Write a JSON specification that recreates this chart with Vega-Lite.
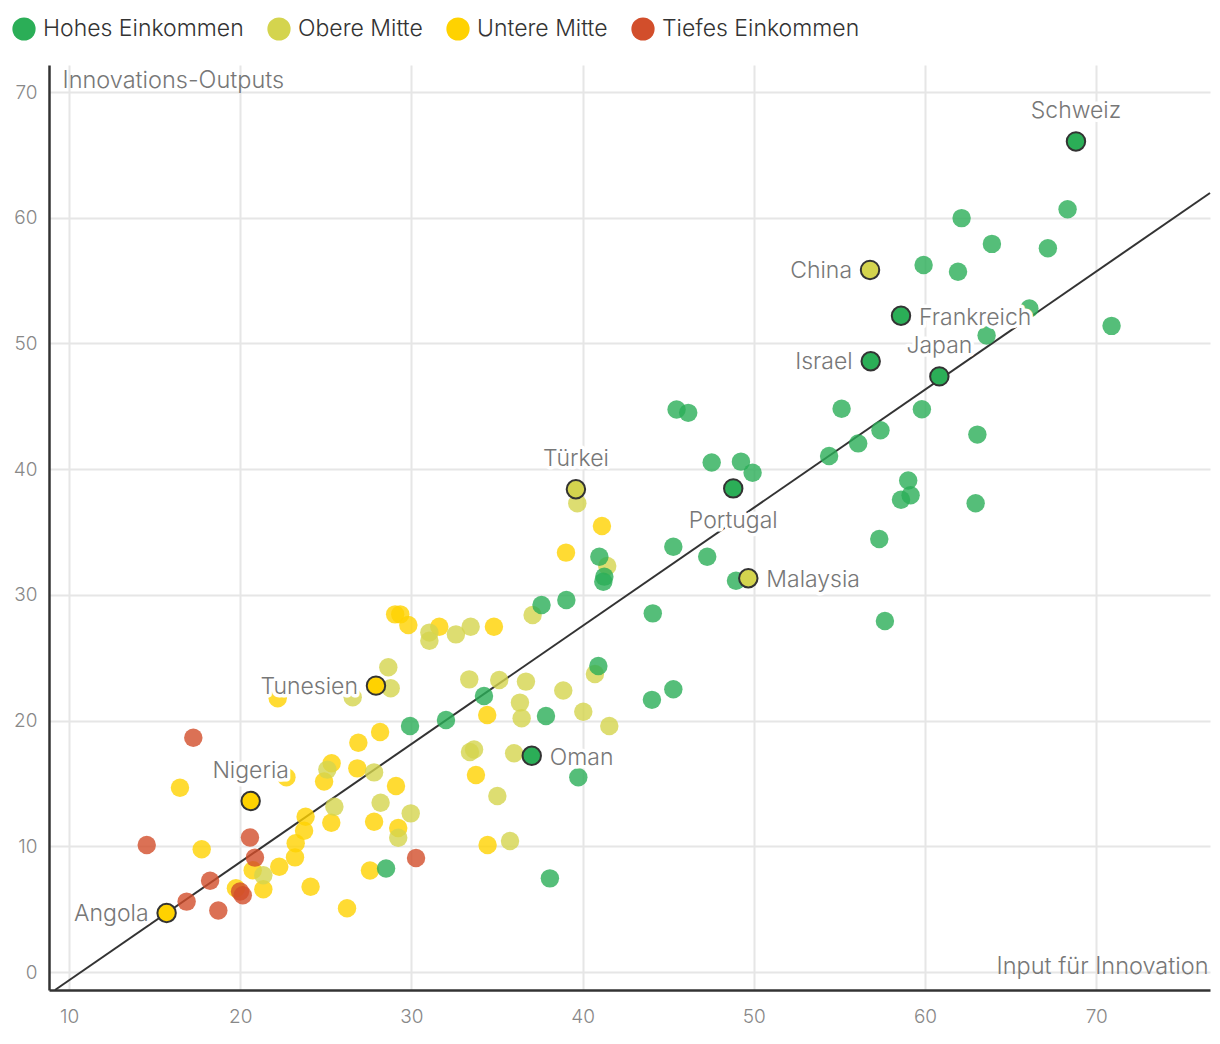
{
  "$schema": "https://vega.github.io/schema/vega-lite/v6.json",
  "width": 1161,
  "height": 925,
  "autosize": {"type": "none"},
  "padding": {"left": 49, "top": 65, "right": 10, "bottom": 54},
  "background": "white",
  "config": {
    "font": "Inter",
    "view": {"stroke": null},
    "text": {"font": "Inter", "fontWeight": 300}
  },
  "datasets": {
    "trend": [
      {"input": 9.18, "output": -1.43},
      {"input": 76.65, "output": 61.97}
    ],
    "punkte": [
      {"gruppe": "Untere Mitte", "input": 41.13, "output": 35.48},
      {"gruppe": "Untere Mitte", "input": 39.03, "output": 33.36},
      {"gruppe": "Untere Mitte", "input": 29.05, "output": 28.45},
      {"gruppe": "Untere Mitte", "input": 29.35, "output": 28.45},
      {"gruppe": "Untere Mitte", "input": 29.82, "output": 27.6},
      {"gruppe": "Untere Mitte", "input": 31.63, "output": 27.47},
      {"gruppe": "Untere Mitte", "input": 34.82, "output": 27.47},
      {"gruppe": "Untere Mitte", "input": 22.19, "output": 21.77},
      {"gruppe": "Untere Mitte", "input": 28.17, "output": 19.1},
      {"gruppe": "Untere Mitte", "input": 26.9, "output": 18.24},
      {"gruppe": "Untere Mitte", "input": 34.43, "output": 20.45},
      {"gruppe": "Untere Mitte", "input": 33.77, "output": 15.67},
      {"gruppe": "Untere Mitte", "input": 34.45, "output": 10.1},
      {"gruppe": "Untere Mitte", "input": 16.48, "output": 14.66},
      {"gruppe": "Untere Mitte", "input": 22.7, "output": 15.5},
      {"gruppe": "Untere Mitte", "input": 24.9, "output": 15.15},
      {"gruppe": "Untere Mitte", "input": 25.34, "output": 16.6},
      {"gruppe": "Untere Mitte", "input": 26.84, "output": 16.2},
      {"gruppe": "Untere Mitte", "input": 29.1, "output": 14.8},
      {"gruppe": "Untere Mitte", "input": 23.82, "output": 12.35},
      {"gruppe": "Untere Mitte", "input": 25.32, "output": 11.88},
      {"gruppe": "Untere Mitte", "input": 23.73, "output": 11.24},
      {"gruppe": "Untere Mitte", "input": 27.82, "output": 11.96},
      {"gruppe": "Untere Mitte", "input": 29.23, "output": 11.45},
      {"gruppe": "Untere Mitte", "input": 23.24, "output": 10.24},
      {"gruppe": "Untere Mitte", "input": 23.2, "output": 9.12},
      {"gruppe": "Untere Mitte", "input": 17.75, "output": 9.76},
      {"gruppe": "Untere Mitte", "input": 22.28, "output": 8.38},
      {"gruppe": "Untere Mitte", "input": 20.73, "output": 8.1},
      {"gruppe": "Untere Mitte", "input": 27.58, "output": 8.08},
      {"gruppe": "Untere Mitte", "input": 19.75, "output": 6.66},
      {"gruppe": "Untere Mitte", "input": 21.35, "output": 6.58},
      {"gruppe": "Untere Mitte", "input": 24.11, "output": 6.79},
      {"gruppe": "Untere Mitte", "input": 26.24, "output": 5.07},
      {"gruppe": "Obere Mitte", "input": 39.69, "output": 37.29},
      {"gruppe": "Obere Mitte", "input": 41.44, "output": 32.3},
      {"gruppe": "Obere Mitte", "input": 37.08, "output": 28.4},
      {"gruppe": "Obere Mitte", "input": 33.46, "output": 27.47},
      {"gruppe": "Obere Mitte", "input": 32.6, "output": 26.86},
      {"gruppe": "Obere Mitte", "input": 31.05, "output": 27.0},
      {"gruppe": "Obere Mitte", "input": 31.05, "output": 26.35},
      {"gruppe": "Obere Mitte", "input": 40.72, "output": 23.7},
      {"gruppe": "Obere Mitte", "input": 33.38, "output": 23.28},
      {"gruppe": "Obere Mitte", "input": 35.13, "output": 23.23},
      {"gruppe": "Obere Mitte", "input": 36.69, "output": 23.1},
      {"gruppe": "Obere Mitte", "input": 28.65, "output": 24.24},
      {"gruppe": "Obere Mitte", "input": 28.79, "output": 22.57},
      {"gruppe": "Obere Mitte", "input": 26.57, "output": 21.85},
      {"gruppe": "Obere Mitte", "input": 38.87, "output": 22.4},
      {"gruppe": "Obere Mitte", "input": 36.34, "output": 21.43},
      {"gruppe": "Obere Mitte", "input": 40.04, "output": 20.71},
      {"gruppe": "Obere Mitte", "input": 36.44, "output": 20.18},
      {"gruppe": "Obere Mitte", "input": 41.56, "output": 19.57},
      {"gruppe": "Obere Mitte", "input": 33.42, "output": 17.5},
      {"gruppe": "Obere Mitte", "input": 33.66, "output": 17.7},
      {"gruppe": "Obere Mitte", "input": 36.0, "output": 17.4},
      {"gruppe": "Obere Mitte", "input": 35.02, "output": 14.0},
      {"gruppe": "Obere Mitte", "input": 35.76, "output": 10.42},
      {"gruppe": "Obere Mitte", "input": 27.82, "output": 15.88},
      {"gruppe": "Obere Mitte", "input": 25.09, "output": 16.1},
      {"gruppe": "Obere Mitte", "input": 25.5, "output": 13.15},
      {"gruppe": "Obere Mitte", "input": 28.2, "output": 13.47},
      {"gruppe": "Obere Mitte", "input": 29.96, "output": 12.62},
      {"gruppe": "Obere Mitte", "input": 29.23, "output": 10.68},
      {"gruppe": "Obere Mitte", "input": 21.35, "output": 7.7},
      {"gruppe": "Hohes Einkommen", "input": 68.33, "output": 60.68},
      {"gruppe": "Hohes Einkommen", "input": 62.14, "output": 59.97},
      {"gruppe": "Hohes Einkommen", "input": 63.91, "output": 57.92},
      {"gruppe": "Hohes Einkommen", "input": 67.18, "output": 57.58},
      {"gruppe": "Hohes Einkommen", "input": 59.92, "output": 56.24},
      {"gruppe": "Hohes Einkommen", "input": 61.93, "output": 55.7},
      {"gruppe": "Hohes Einkommen", "input": 66.1, "output": 52.78},
      {"gruppe": "Hohes Einkommen", "input": 70.9, "output": 51.4},
      {"gruppe": "Hohes Einkommen", "input": 63.6, "output": 50.64},
      {"gruppe": "Hohes Einkommen", "input": 55.13, "output": 44.8},
      {"gruppe": "Hohes Einkommen", "input": 59.82, "output": 44.77},
      {"gruppe": "Hohes Einkommen", "input": 45.49, "output": 44.74},
      {"gruppe": "Hohes Einkommen", "input": 46.17, "output": 44.48},
      {"gruppe": "Hohes Einkommen", "input": 57.4, "output": 43.1},
      {"gruppe": "Hohes Einkommen", "input": 63.06, "output": 42.75},
      {"gruppe": "Hohes Einkommen", "input": 56.1, "output": 42.05},
      {"gruppe": "Hohes Einkommen", "input": 54.4, "output": 41.05},
      {"gruppe": "Hohes Einkommen", "input": 47.54, "output": 40.53},
      {"gruppe": "Hohes Einkommen", "input": 49.25, "output": 40.6},
      {"gruppe": "Hohes Einkommen", "input": 49.93, "output": 39.72},
      {"gruppe": "Hohes Einkommen", "input": 59.02, "output": 39.1},
      {"gruppe": "Hohes Einkommen", "input": 59.16, "output": 37.93},
      {"gruppe": "Hohes Einkommen", "input": 58.6, "output": 37.57},
      {"gruppe": "Hohes Einkommen", "input": 62.96, "output": 37.29},
      {"gruppe": "Hohes Einkommen", "input": 57.33, "output": 34.45},
      {"gruppe": "Hohes Einkommen", "input": 45.3, "output": 33.83},
      {"gruppe": "Hohes Einkommen", "input": 47.28, "output": 33.04},
      {"gruppe": "Hohes Einkommen", "input": 40.98, "output": 33.04},
      {"gruppe": "Hohes Einkommen", "input": 41.27, "output": 31.45},
      {"gruppe": "Hohes Einkommen", "input": 41.21, "output": 31.05},
      {"gruppe": "Hohes Einkommen", "input": 48.96, "output": 31.13},
      {"gruppe": "Hohes Einkommen", "input": 57.66, "output": 27.92},
      {"gruppe": "Hohes Einkommen", "input": 37.6, "output": 29.2},
      {"gruppe": "Hohes Einkommen", "input": 39.05, "output": 29.6},
      {"gruppe": "Hohes Einkommen", "input": 44.1, "output": 28.53},
      {"gruppe": "Hohes Einkommen", "input": 40.92, "output": 24.34},
      {"gruppe": "Hohes Einkommen", "input": 45.3, "output": 22.5},
      {"gruppe": "Hohes Einkommen", "input": 44.05, "output": 21.65},
      {"gruppe": "Hohes Einkommen", "input": 34.24, "output": 21.96},
      {"gruppe": "Hohes Einkommen", "input": 32.02, "output": 20.05},
      {"gruppe": "Hohes Einkommen", "input": 29.92, "output": 19.57},
      {"gruppe": "Hohes Einkommen", "input": 37.86, "output": 20.37},
      {"gruppe": "Hohes Einkommen", "input": 39.75, "output": 15.49},
      {"gruppe": "Hohes Einkommen", "input": 28.52, "output": 8.24},
      {"gruppe": "Hohes Einkommen", "input": 38.09, "output": 7.45},
      {"gruppe": "Tiefes Einkommen", "input": 17.26, "output": 18.64},
      {"gruppe": "Tiefes Einkommen", "input": 14.54, "output": 10.1},
      {"gruppe": "Tiefes Einkommen", "input": 20.57, "output": 10.7},
      {"gruppe": "Tiefes Einkommen", "input": 20.86, "output": 9.1},
      {"gruppe": "Tiefes Einkommen", "input": 30.27, "output": 9.07},
      {"gruppe": "Tiefes Einkommen", "input": 18.24, "output": 7.26},
      {"gruppe": "Tiefes Einkommen", "input": 16.87, "output": 5.6},
      {"gruppe": "Tiefes Einkommen", "input": 18.72, "output": 4.9},
      {"gruppe": "Tiefes Einkommen", "input": 19.99, "output": 6.4},
      {"gruppe": "Tiefes Einkommen", "input": 20.15, "output": 6.1},
      {"land": "Schweiz", "gruppe": "Hohes Einkommen", "input": 68.82, "output": 66.07},
      {"land": "China", "gruppe": "Obere Mitte", "input": 56.79, "output": 55.85},
      {"land": "Frankreich", "gruppe": "Hohes Einkommen", "input": 58.6, "output": 52.2},
      {"land": "Israel", "gruppe": "Hohes Einkommen", "input": 56.83, "output": 48.58},
      {"land": "Japan", "gruppe": "Hohes Einkommen", "input": 60.84, "output": 47.38},
      {"land": "Türkei", "gruppe": "Obere Mitte", "input": 39.61, "output": 38.4},
      {"land": "Portugal", "gruppe": "Hohes Einkommen", "input": 48.8, "output": 38.47},
      {"land": "Malaysia", "gruppe": "Obere Mitte", "input": 49.68, "output": 31.32},
      {"land": "Tunesien", "gruppe": "Untere Mitte", "input": 27.93, "output": 22.78},
      {"land": "Oman", "gruppe": "Hohes Einkommen", "input": 37.03, "output": 17.2},
      {"land": "Nigeria", "gruppe": "Untere Mitte", "input": 20.61, "output": 13.6},
      {"land": "Angola", "gruppe": "Untere Mitte", "input": 15.7, "output": 4.7}
    ]
  },
  "encoding": {
    "x": {
      "field": "input",
      "type": "quantitative",
      "scale": {"domain": [8.83, 76.65], "nice": false, "zero": false},
      "axis": {
        "values": [10, 20, 30, 40, 50, 60, 70],
        "title": "Input für Innovation",
        "titleX": 1159,
        "titleY": -24,
        "titleAlign": "right",
        "titleBaseline": "middle",
        "titleFontSize": 23.5,
        "titleFontWeight": 300,
        "titleColor": "#777777",
        "labelFontSize": 19,
        "labelFontWeight": 300,
        "labelColor": "#888888",
        "labelPadding": 17,
        "tickSize": 0,
        "grid": true,
        "gridColor": "#e6e6e6",
        "gridWidth": 2,
        "domainColor": "#333333",
        "domainWidth": 2.5
      }
    },
    "y": {
      "field": "output",
      "type": "quantitative",
      "scale": {"domain": [-1.43, 72.15], "nice": false, "zero": false},
      "axis": {
        "values": [0, 10, 20, 30, 40, 50, 60, 70],
        "title": "Innovations-Outputs",
        "titleAngle": 0,
        "titleX": 13,
        "titleY": 15,
        "titleAlign": "left",
        "titleBaseline": "middle",
        "titleFontSize": 23.5,
        "titleFontWeight": 300,
        "titleColor": "#777777",
        "labelFontSize": 19,
        "labelFontWeight": 300,
        "labelColor": "#888888",
        "labelPadding": 12,
        "tickSize": 0,
        "grid": true,
        "gridColor": "#e6e6e6",
        "gridWidth": 2,
        "domainColor": "#333333",
        "domainWidth": 2.5
      }
    }
  },
  "layer": [
    {
      "data": {"name": "trend"},
      "mark": {"type": "line", "color": "#333333", "strokeWidth": 2},
      "encoding": {}
    },
    {
      "data": {"name": "punkte"},
      "transform": [{"filter": "!datum.land"}],
      "mark": {"type": "point", "filled": true, "shape": "circle", "size": 340, "opacity": 0.8, "strokeWidth": 0},
      "encoding": {
        "color": {
          "field": "gruppe",
          "type": "nominal",
          "scale": {
            "domain": ["Hohes Einkommen", "Obere Mitte", "Untere Mitte", "Tiefes Einkommen"],
            "range": ["#2bae57", "#d4d44e", "#ffd200", "#d24e2b"]
          },
          "legend": {
            "title": null,
            "orient": "none",
            "legendX": -37,
            "legendY": -48,
            "direction": "horizontal",
            "symbolType": "circle",
            "symbolSize": 540,
            "symbolOpacity": 1,
            "symbolStrokeWidth": 0,
            "labelFontSize": 23,
            "labelFontWeight": 300,
            "labelColor": "#333333",
            "labelLimit": 400,
            "labelOffset": 7,
            "columnPadding": 23
          }
        }
      }
    },
    {
      "data": {"name": "punkte"},
      "transform": [{"filter": {"field": "land", "oneOf": ["Schweiz", "Japan", "Türkei", "Nigeria"]}}],
      "mark": {"type": "text", "dy": -30, "align": "center", "baseline": "middle", "fontSize": 23, "fill": "white", "stroke": "white", "strokeWidth": 7, "strokeJoin": "round"},
      "encoding": {"text": {"field": "land"}}
    },
    {
      "data": {"name": "punkte"},
      "transform": [{"filter": {"field": "land", "oneOf": ["Schweiz", "Japan", "Türkei", "Nigeria"]}}],
      "mark": {"type": "text", "dy": -30, "align": "center", "baseline": "middle", "fontSize": 23, "fill": "#777777"},
      "encoding": {"text": {"field": "land"}}
    },
    {
      "data": {"name": "punkte"},
      "transform": [{"filter": {"field": "land", "oneOf": ["China", "Israel", "Tunesien", "Angola"]}}],
      "mark": {"type": "text", "dx": -18, "dy": 1, "align": "right", "baseline": "middle", "fontSize": 23, "fill": "white", "stroke": "white", "strokeWidth": 7, "strokeJoin": "round"},
      "encoding": {"text": {"field": "land"}}
    },
    {
      "data": {"name": "punkte"},
      "transform": [{"filter": {"field": "land", "oneOf": ["China", "Israel", "Tunesien", "Angola"]}}],
      "mark": {"type": "text", "dx": -18, "dy": 1, "align": "right", "baseline": "middle", "fontSize": 23, "fill": "#777777"},
      "encoding": {"text": {"field": "land"}}
    },
    {
      "data": {"name": "punkte"},
      "transform": [{"filter": {"field": "land", "oneOf": ["Frankreich", "Malaysia", "Oman"]}}],
      "mark": {"type": "text", "dx": 18, "dy": 2, "align": "left", "baseline": "middle", "fontSize": 23, "fill": "white", "stroke": "white", "strokeWidth": 7, "strokeJoin": "round"},
      "encoding": {"text": {"field": "land"}}
    },
    {
      "data": {"name": "punkte"},
      "transform": [{"filter": {"field": "land", "oneOf": ["Frankreich", "Malaysia", "Oman"]}}],
      "mark": {"type": "text", "dx": 18, "dy": 2, "align": "left", "baseline": "middle", "fontSize": 23, "fill": "#777777"},
      "encoding": {"text": {"field": "land"}}
    },
    {
      "data": {"name": "punkte"},
      "transform": [{"filter": {"field": "land", "oneOf": ["Portugal"]}}],
      "mark": {"type": "text", "dy": 33, "align": "center", "baseline": "middle", "fontSize": 23, "fill": "white", "stroke": "white", "strokeWidth": 7, "strokeJoin": "round"},
      "encoding": {"text": {"field": "land"}}
    },
    {
      "data": {"name": "punkte"},
      "transform": [{"filter": {"field": "land", "oneOf": ["Portugal"]}}],
      "mark": {"type": "text", "dy": 33, "align": "center", "baseline": "middle", "fontSize": 23, "fill": "#777777"},
      "encoding": {"text": {"field": "land"}}
    },
    {
      "data": {"name": "punkte"},
      "transform": [{"filter": "datum.land"}],
      "mark": {"type": "point", "filled": true, "shape": "circle", "size": 340, "opacity": 1, "stroke": "#333333", "strokeWidth": 2},
      "encoding": {
        "color": {"field": "gruppe", "type": "nominal"}
      }
    }
  ]
}
